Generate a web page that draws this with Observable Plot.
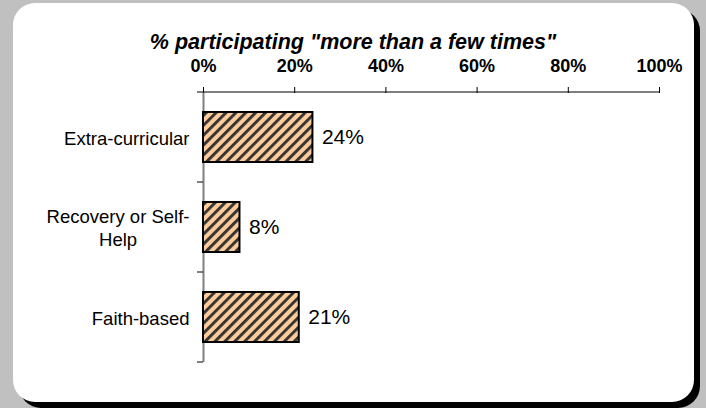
<!DOCTYPE html>
<html><head><meta charset="utf-8">
<script src="https://cdn.jsdelivr.net/npm/d3@7"></script>
<script src="https://cdn.jsdelivr.net/npm/@observablehq/plot@0.6"></script>
<style>
html,body{margin:0;padding:0;background:#c0c0c0;}
#wrap{position:relative;width:706px;height:408px;overflow:hidden;background:#c0c0c0;font-family:"Liberation Sans",Arial,sans-serif;}
#box{position:absolute;left:13px;top:3px;width:681px;height:399px;background:#fff;border-radius:22px;box-shadow:6px 6px 0 #000;}
#title{position:absolute;left:0;width:706px;top:32px;text-align:center;font:italic bold 21.5px/1 "Liberation Sans",Arial,sans-serif;color:#000;}
#chart{position:absolute;left:0;top:0;}
</style></head><body>
<div id="wrap"><div id="box"></div><div id="title">% participating "more than a few times"</div><div id="chart"></div></div>
<script>
const categories = ["Extra-curricular", "Recovery or Self-Help", "Faith-based"];
const values = [24, 8, 21];
const valueLabels = ["24%", "8%", "21%"];
const categoryLabels = ["Extra-curricular", "Recovery or Self-\nHelp", "Faith-based"];
const xTicks = [0, 20, 40, 60, 80, 100];
const xTickLabels = ["0%", "20%", "40%", "60%", "80%", "100%"];

const data = categories.map((c, i) => ({category: c, value: values[i], label: valueLabels[i]}));

const boundaries = (index, scales, vals, dimensions, context) => {
  const y = scales.y, x = scales.x;
  const g = d3.create("svg:g");
  const gap = (y.step() - y.bandwidth()) / 2;
  const x0 = x(0), x1 = x(100);
  const ys = [y(categories[0]) - gap, ...categories.map(c => y(c) + y.bandwidth() + gap)];
  g.append("line").attr("x1", x0).attr("x2", x1).attr("y1", ys[0]).attr("y2", ys[0]).attr("stroke", "#000");
  for (const yy of ys) {
    g.append("line").attr("x1", x0 - 6).attr("x2", x0).attr("y1", yy).attr("y2", yy).attr("stroke", "#000");
  }
  return g.node();
};

const plot = Plot.plot({
  width: 706, height: 408,
  marginTop: 92, marginBottom: 46, marginLeft: 203, marginRight: 47,
  style: {background: "transparent", fontFamily: "'Liberation Sans', Arial, sans-serif", color: "#000", overflow: "visible"},
  x: {domain: [0, 100]},
  y: {domain: categories, paddingInner: 0.44, paddingOuter: 0.22},
  marks: [
    Plot.axisX(xTicks, {anchor: "top", tickSize: 6, tickPadding: 15, tickFormat: d => xTickLabels[xTicks.indexOf(d)], fontSize: 18, fontWeight: "bold", label: null}),
    Plot.axisY({tickSize: 0, tickPadding: 14, tickFormat: d => categoryLabels[categories.indexOf(d)], fontSize: 18.5, lineHeight: 1.25, label: null}),
    Plot.ruleX([0], {stroke: "#808080", strokeWidth: 2}),
    Plot.barX(data, {x: "value", y: "category", fill: "url(#hatch)", stroke: "#000", strokeWidth: 2}),
    Plot.text(data, {x: "value", y: "category", text: "label", textAnchor: "start", dx: 9, fontSize: 21}),
    boundaries
  ]
});

const svg = d3.select(plot);
const defs = svg.insert("defs", ":first-child");
const p = defs.append("pattern").attr("id", "hatch").attr("patternUnits", "userSpaceOnUse")
  .attr("width", 7).attr("height", 7).attr("patternTransform", "rotate(45)");
p.append("rect").attr("width", 7).attr("height", 7).attr("fill", "#ffcc99");
p.append("rect").attr("width", 2.9).attr("height", 7).attr("fill", "#333");

document.getElementById("chart").appendChild(plot);

// center multi-line category labels within their own block (Excel-style)
svg.selectAll('g[aria-label="y-axis tick label"] text').each(function() {
  const t = d3.select(this);
  const w = this.getBBox().width;
  t.attr("text-anchor", "middle");
  const tspans = t.selectAll("tspan");
  if (tspans.size()) tspans.attr("x", -w / 2);
  else t.attr("x", -w / 2);
});
</script>
</body></html>
